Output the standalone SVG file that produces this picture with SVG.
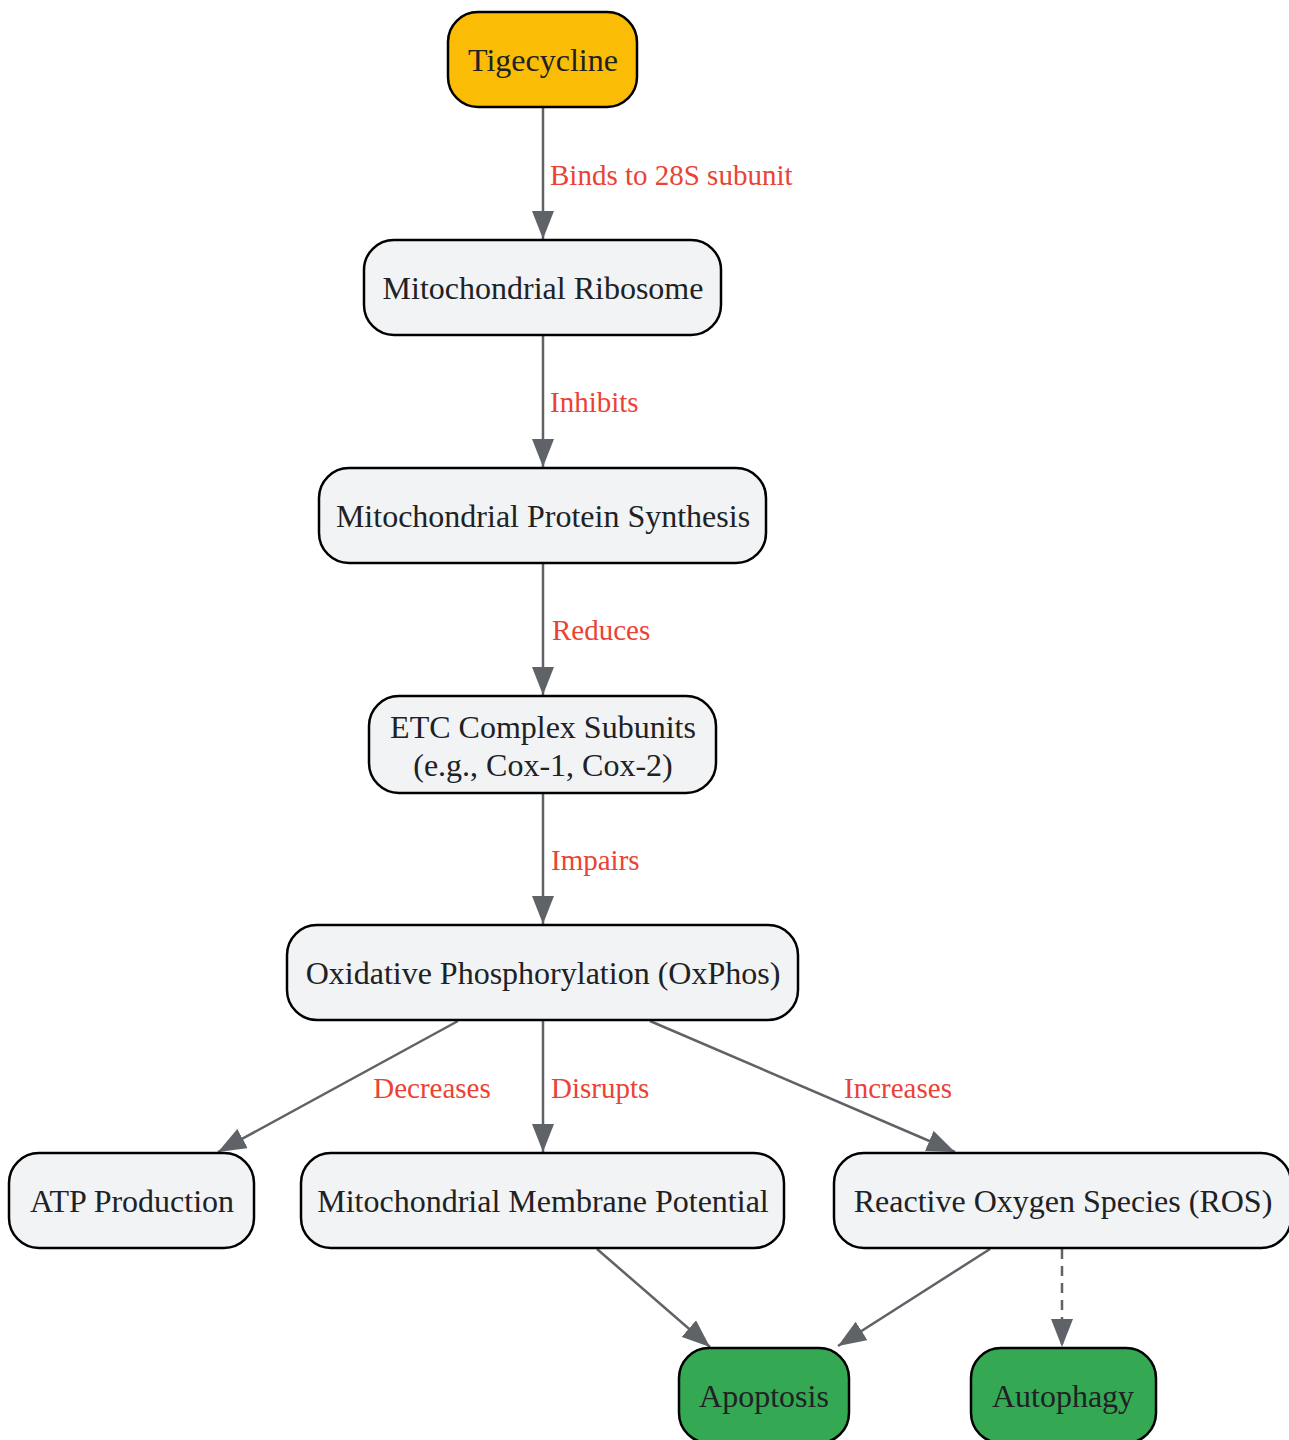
<svg xmlns="http://www.w3.org/2000/svg" width="1289" height="1440" viewBox="0 0 1289 1440">
<defs>
<marker id="arr" markerUnits="userSpaceOnUse" markerWidth="28" markerHeight="22" refX="28" refY="11" orient="auto">
<path d="M0,0 L28,11 L0,22 z" fill="#5F6368"/>
</marker>
<style>
.n rect{stroke:#000;stroke-width:2.5}
.g rect{fill:#F1F3F4}
.y rect{fill:#FBBC05}
.gr rect{fill:#34A853}
.n text{font-family:"Liberation Serif","Times New Roman",serif;font-size:32px;fill:#202124;text-anchor:middle;dominant-baseline:central}
.e line{stroke:#5F6368;stroke-width:2.5;fill:none;marker-end:url(#arr)}
.e text{font-family:"Liberation Serif","Times New Roman",serif;font-size:29px;fill:#EA4335;dominant-baseline:central}
</style>
</defs>
<rect width="1289" height="1440" fill="#fff"/>
<g id="connectors" class="e">
<line x1="543" y1="107" x2="543" y2="239"/>
<line x1="543" y1="335" x2="543" y2="467"/>
<line x1="543" y1="563" x2="543" y2="695"/>
<line x1="543" y1="793" x2="543" y2="924"/>
<line x1="458" y1="1021" x2="218" y2="1152"/>
<line x1="543" y1="1021" x2="543" y2="1152"/>
<line x1="650" y1="1021" x2="955" y2="1152"/>
<line x1="597" y1="1249" x2="710" y2="1347"/>
<line x1="990" y1="1249" x2="838" y2="1346"/>
<line x1="1062" y1="1249" x2="1062" y2="1347" stroke-dasharray="10,7"/>
<text x="550" y="175">Binds to 28S subunit</text>
<text x="550" y="402">Inhibits</text>
<text x="552" y="630">Reduces</text>
<text x="551" y="860">Impairs</text>
<text x="432" y="1088" text-anchor="middle">Decreases</text>
<text x="551" y="1088">Disrupts</text>
<text x="898" y="1088" text-anchor="middle">Increases</text>
</g>
<g id="tigecycline" class="n y"><rect x="448" y="12" width="189" height="95" rx="30"/><text x="543" y="60">Tigecycline</text></g>
<g id="ribosome" class="n g"><rect x="364" y="240" width="357" height="95" rx="30"/><text x="543" y="288">Mitochondrial Ribosome</text></g>
<g id="synthesis" class="n g"><rect x="319" y="468" width="447" height="95" rx="30"/><text x="543" y="516">Mitochondrial Protein Synthesis</text></g>
<g id="etc" class="n g"><rect x="369" y="696" width="347" height="97" rx="30"/><text x="543" y="727">ETC Complex Subunits</text><text x="543" y="765">(e.g., Cox-1, Cox-2)</text></g>
<g id="oxphos" class="n g"><rect x="287" y="925" width="511" height="95" rx="30"/><text x="543" y="973">Oxidative Phosphorylation (OxPhos)</text></g>
<g id="atp" class="n g"><rect x="9" y="1153" width="245" height="95" rx="30"/><text x="132" y="1201">ATP Production</text></g>
<g id="mmp" class="n g"><rect x="301" y="1153" width="483" height="95" rx="30"/><text x="543" y="1201">Mitochondrial Membrane Potential</text></g>
<g id="ros" class="n g"><rect x="834" y="1153" width="457" height="95" rx="30"/><text x="1063" y="1201">Reactive Oxygen Species (ROS)</text></g>
<g id="apoptosis" class="n gr"><rect x="679" y="1348" width="170" height="95" rx="30"/><text x="764" y="1396">Apoptosis</text></g>
<g id="autophagy" class="n gr"><rect x="971" y="1348" width="185" height="95" rx="30"/><text x="1063" y="1396">Autophagy</text></g>
</svg>
